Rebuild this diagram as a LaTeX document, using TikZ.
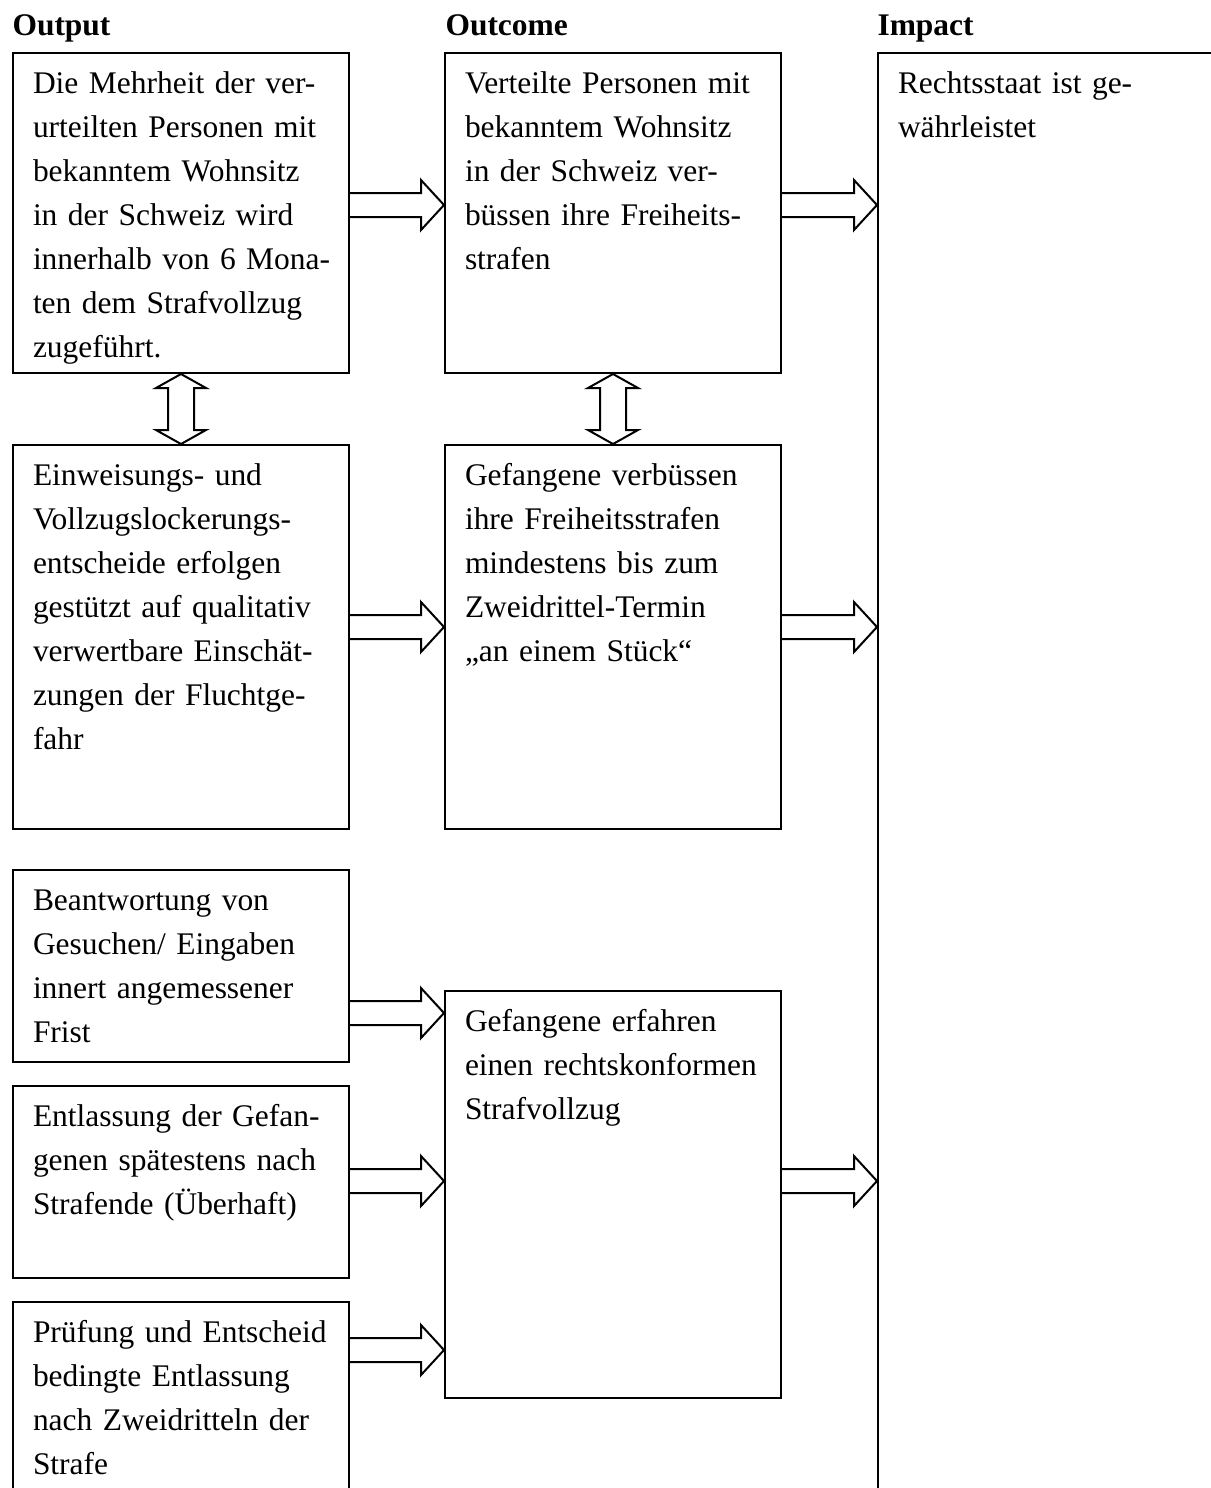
\documentclass[tikz,border=0pt]{standalone}
\usepackage{fontspec}
\setmainfont{Liberation Serif}
\usepackage{tikz}
\usetikzlibrary{positioning, calc}

\newlength{\px}
\setlength{\px}{0.375pt}

% fat right arrow from #1 to #2 at height #3
\newcommand{\fatarrow}[3]{%
  \draw[fat] (#1.east |- 0,#3) ++(0,-12)
    -- ($(#2.west |- 0,#3)+(-23,-12)$) -- ++(0,-13)
    -- (#2.west |- 0,#3) -- ++(-23,25) -- ++(0,-13)
    -- ($(#1.east |- 0,#3)+(0,12)$);}
% fat double arrow between #1 (above) and #2 (below)
\newcommand{\dblarrow}[2]{%
  \draw[fat] (#1.south) -- ++(25,14) -- ++(-12,0)
    -- ($(#2.north)+(13,-14)$) -- ++(12,0) -- (#2.north)
    -- ++(-25,-14) -- ++(12,0)
    -- ($(#1.south)+(-13,14)$) -- ++(-12,0) -- cycle;}

\begin{document}
\begin{tikzpicture}[
      x=0.375pt, y=-0.375pt,
      box/.style={draw, line width=0.75pt, anchor=north west, align=left,
          inner xsep=20\px, inner ysep=0pt, text width=296\px,
          text height=40\px, font=\fontsize{11.8pt}{16.5pt}\selectfont},
      head/.style={anchor=base west, inner sep=0pt,
          font=\fontsize{11.8pt}{14pt}\selectfont\bfseries},
      fat/.style={line width=0.75pt, line join=miter, fill=white},
    ]
    \useasboundingbox (0,0) rectangle (1211,1488);
    \clip (0,0) rectangle (1211,1488);

    %% ── HEADINGS ────────────────────────────────────────────────────────────
    \node[head] (hout) at (12,35)  {Output};
    \node[head] (hoc)  at (445,35) {Outcome};
    \node[head] (himp) at (877,35) {Impact};

    %% ── OUTPUT ──────────────────────────────────────────────────────────────
    \node[box, text depth=280\px] at (12,52) (out1)
    {Die Mehrheit der ver-\\urteilten Personen mit\\bekanntem Wohnsitz\\
    in der Schweiz wird\\\mbox{innerhalb von 6 Mona-}\\ten dem Strafvollzug\\zugeführt.};
    \node[box, text depth=344\px] at (12,444) (out2)
    {Einweisungs- und\\Vollzugslockerungs-\\entscheide erfolgen\\
    gestützt auf qualitativ\\verwertbare Einschät-\\zungen der Fluchtge-\\fahr};
    \node[box, text depth=152\px] at (12,869) (out3)
    {Beantwortung von\\Gesuchen/ Eingaben\\innert angemessener\\Frist};
    \node[box, text depth=152\px] at (12,1085) (out4)
    {Entlassung der Gefan-\\genen spätestens nach\\Strafende (Überhaft)};
    \node[box, text depth=260\px] at (12,1301) (out5)
    {\mbox{Prüfung und Entscheid}\\bedingte Entlassung\\nach Zweidritteln der\\Strafe};

    %% ── OUTCOME ─────────────────────────────────────────────────────────────
    \node[box, text depth=280\px] at (444,52) (oc1)
    {Verteilte Personen mit\\bekanntem Wohnsitz\\in der Schweiz ver-\\
    büssen ihre Freiheits-\\strafen};
    \node[box, text depth=344\px] at (444,444) (oc2)
    {Gefangene verbüssen\\ihre Freiheitsstrafen\\mindestens bis zum\\
    Zweidrittel-Termin\\„an einem Stück“};
    \node[box, text depth=367\px] at (444,990) (oc3)
    {Gefangene erfahren\\\mbox{einen rechtskonformen}\\Strafvollzug};

    %% ── IMPACT ──────────────────────────────────────────────────────────────
    \node[box, text width=460\px, text depth=1460\px] at (877,52) (imp)
    {Rechtsstaat ist ge-\\währleistet};

    %% ── ARROWS ──────────────────────────────────────────────────────────────
    \fatarrow{out1}{oc1}{205}
    \fatarrow{out2}{oc2}{627}
    \fatarrow{out3}{oc3}{1013}
    \fatarrow{out4}{oc3}{1181}
    \fatarrow{out5}{oc3}{1350}
    \fatarrow{oc1}{imp}{205}
    \fatarrow{oc2}{imp}{627}
    \fatarrow{oc3}{imp}{1181}
    \dblarrow{out1}{out2}
    \dblarrow{oc1}{oc2}

  \end{tikzpicture}
\end{document}
